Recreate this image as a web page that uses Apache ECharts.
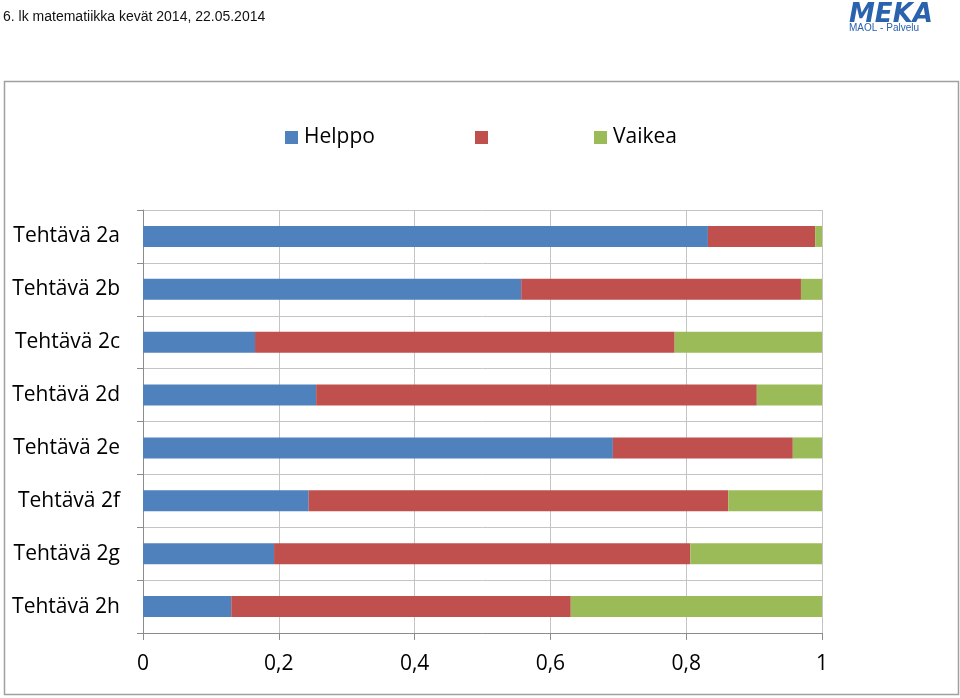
<!DOCTYPE html>
<html>
<head>
<meta charset="utf-8">
<script src="https://cdn.jsdelivr.net/npm/echarts@6/dist/echarts.min.js"></script>
<style>
  html, body { margin: 0; padding: 0; background: #fff; }
  #chart { width: 960px; height: 698px; }
</style>
</head>
<body>
<div id="chart"></div>
<script>
// ---- data ----
var categories = ['Tehtävä 2a', 'Tehtävä 2b', 'Tehtävä 2c', 'Tehtävä 2d', 'Tehtävä 2e', 'Tehtävä 2f', 'Tehtävä 2g', 'Tehtävä 2h'];
var seriesNames = ['Helppo', ' ', 'Vaikea'];
var helppo = [0.832, 0.557, 0.165, 0.255, 0.692, 0.244, 0.193, 0.130];
var keski  = [0.158, 0.412, 0.618, 0.649, 0.265, 0.618, 0.613, 0.500];
var vaikea = [0.010, 0.031, 0.217, 0.096, 0.043, 0.138, 0.194, 0.370];
var xTicks = [0, 0.2, 0.4, 0.6, 0.8, 1];
var titleText = '6. lk matematiikka kevät 2014, 22.05.2014';
var logoText = 'MEKA';
var logoSub = 'MAOL - Palvelu';

var colors = ['#4f81bd', '#c0504d', '#9bbb59'];
var font = 'Open Sans, Liberation Sans, sans-serif';

var chart = echarts.init(document.getElementById('chart'));
var dataSets = [helppo, keski, vaikea];
var series = dataSets.map(function (d, i) {
  return {
    name: seriesNames[i],
    type: 'bar',
    stack: 'total',
    data: d,
    barWidth: 21,
    itemStyle: { color: colors[i] },
    emphasis: { disabled: true },
    animation: false
  };
});

function legendFor(i, left) {
  return {
    data: [seriesNames[i]],
    left: left,
    top: 122,
    icon: 'rect',
    itemWidth: 13,
    itemHeight: 13,
    itemGap: 0,
    selectedMode: false,
    textStyle: { fontSize: 21, color: '#000', fontFamily: font, padding: [0, 0, 0, 1] }
  };
}

chart.setOption({
  animation: false,
  backgroundColor: '#fff',
  color: colors,
  legend: [legendFor(0, 280), legendFor(1, 470), legendFor(2, 589)],
  grid: { left: 143, right: 138, top: 210, bottom: 65, containLabel: false },
  xAxis: {
    type: 'value',
    min: xTicks[0], max: xTicks[xTicks.length - 1], interval: 0.2,
    axisLine: { show: true, lineStyle: { color: '#8c8c8c', width: 1 } },
    axisTick: { show: true, length: 7, lineStyle: { color: '#8c8c8c' } },
    splitLine: { show: true, lineStyle: { color: '#c4c4c4', width: 1 } },
    axisLabel: {
      margin: 21,
      fontSize: 21, color: '#000', fontFamily: font,
      formatter: function (v) { return String(Math.round(v * 10) / 10).replace('.', ','); }
    }
  },
  yAxis: {
    type: 'category',
    data: categories,
    inverse: true,
    axisLine: { show: true, lineStyle: { color: '#8c8c8c', width: 1 } },
    axisTick: { show: true, length: 6, lineStyle: { color: '#8c8c8c' } },
    splitLine: { show: true, lineStyle: { color: '#c4c4c4', width: 1 } },
    axisLabel: { margin: 23, fontSize: 21, color: '#000', fontFamily: font, padding: [3, 0, 0, 0] }
  },
  series: series,
  graphic: [
    { type: 'rect', shape: { x: 4.5, y: 81.5, width: 954, height: 613 },
      style: { fill: null, stroke: '#a0a0a0', lineWidth: 1.5 }, silent: true, z: -1 },
    { type: 'text', left: 3, top: 10,
      style: { text: titleText, fontSize: 14, fill: '#111', fontFamily: 'Liberation Sans, sans-serif' } },
    { type: 'text', left: 849, top: 2,
      style: { text: logoText, fontSize: 26, fontWeight: 'bold', fontStyle: 'italic', fill: '#2a62ad', fontFamily: 'DejaVu Sans, sans-serif' } },
    { type: 'text', left: 849, top: 23,
      style: { text: logoSub, fontSize: 10, fill: '#2a62ad', fontFamily: 'Liberation Sans, sans-serif' } }
  ]
});
</script>
</body>
</html>
